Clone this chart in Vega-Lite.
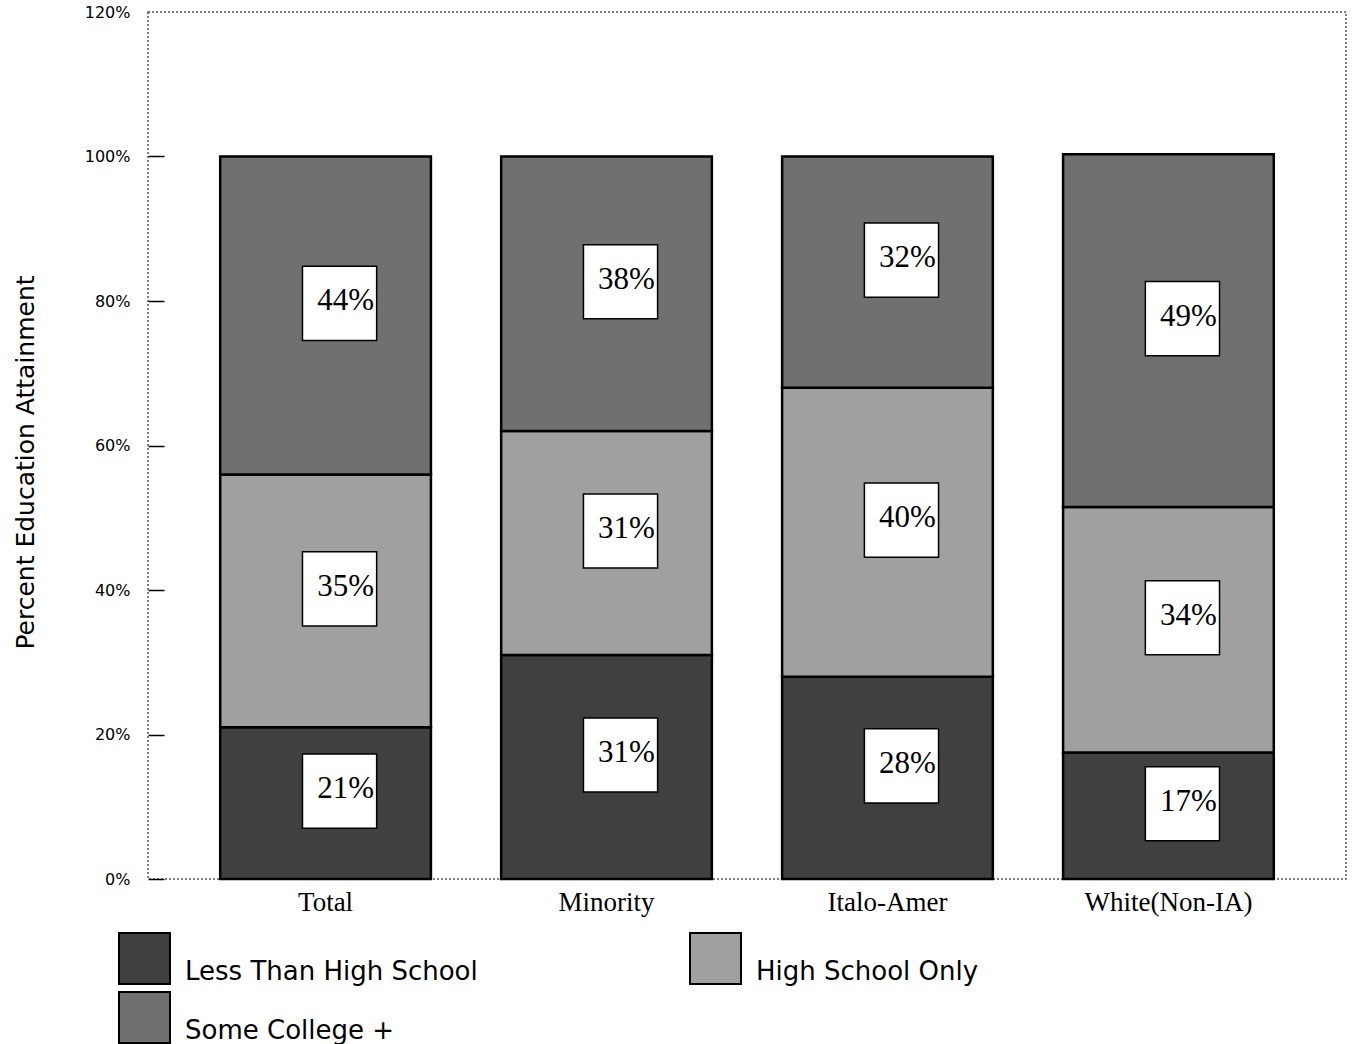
{
  "$schema": "https://vega.github.io/schema/vega-lite/v6.json",
  "autosize": {"type": "none"},
  "padding": {"left": 148, "top": 12, "right": 10, "bottom": 165},
  "width": 1198,
  "height": 867,
  "background": "white",
  "config": {
    "view": {"stroke": "#555555", "strokeDash": [2, 2], "strokeWidth": 1.5}
  },
  "data": {
    "values": [
      {"group": "Total", "level": "Less Than High School", "order": 1, "value": 21, "label": "21%"},
      {"group": "Total", "level": "High School Only", "order": 2, "value": 35, "label": "35%"},
      {"group": "Total", "level": "Some College +", "order": 3, "value": 44, "label": "44%"},
      {"group": "Minority", "level": "Less Than High School", "order": 1, "value": 31, "label": "31%"},
      {"group": "Minority", "level": "High School Only", "order": 2, "value": 31, "label": "31%"},
      {"group": "Minority", "level": "Some College +", "order": 3, "value": 38, "label": "38%"},
      {"group": "Italo-Amer", "level": "Less Than High School", "order": 1, "value": 28, "label": "28%"},
      {"group": "Italo-Amer", "level": "High School Only", "order": 2, "value": 40, "label": "40%"},
      {"group": "Italo-Amer", "level": "Some College +", "order": 3, "value": 32, "label": "32%"},
      {"group": "White(Non-IA)", "level": "Less Than High School", "order": 1, "value": 17.5, "label": "17%"},
      {"group": "White(Non-IA)", "level": "High School Only", "order": 2, "value": 34, "label": "34%"},
      {"group": "White(Non-IA)", "level": "Some College +", "order": 3, "value": 48.8, "label": "49%"}
    ]
  },
  "encoding": {
    "x": {
      "field": "group",
      "type": "nominal",
      "sort": ["Total", "Minority", "Italo-Amer", "White(Non-IA)"],
      "scale": {"paddingInner": 0.25, "paddingOuter": 0.257},
      "axis": {
        "title": null,
        "labelAngle": 0,
        "labelFont": "Liberation Serif",
        "labelFontSize": 27,
        "labelColor": "black",
        "labelPadding": 10,
        "ticks": false,
        "domain": false
      }
    }
  },
  "layer": [
    {
      "mark": {"type": "bar", "stroke": "black", "strokeWidth": 2.5, "opacity": 1},
      "encoding": {
        "y": {
          "field": "value",
          "type": "quantitative",
          "stack": "zero",
          "scale": {"domain": [0, 120], "nice": false},
          "axis": {
            "title": "Percent Education Attainment",
            "titleFont": "DejaVu Sans",
            "titleFontSize": 25,
            "titleFontWeight": "normal",
            "titleColor": "black",
            "titlePadding": 46,
            "titleY": 450,
            "values": [0, 20, 40, 60, 80, 100, 120],
            "labelExpr": "datum.value + '%'",
            "labelFont": "DejaVu Sans",
            "labelFontSize": 16,
            "labelColor": "black",
            "labelPadding": 34,
            "tickSize": -16,
            "tickColor": {"condition": {"test": "datum.value == 120", "value": "transparent"}, "value": "black"},
            "tickWidth": 1.5,
            "domain": false,
            "grid": false
          }
        },
        "fill": {
          "field": "level",
          "type": "nominal",
          "scale": {
            "domain": ["Less Than High School", "Some College +", "High School Only"],
            "range": ["#404040", "#707070", "#a0a0a0"]
          },
          "legend": {
            "title": null,
            "orient": "none",
            "legendX": -30,
            "legendY": 920,
            "columns": 2,
            "columnPadding": 208,
            "rowPadding": 0,
            "symbolType": "square",
            "symbolSize": 2600,
            "symbolStrokeColor": "black",
            "symbolStrokeWidth": 2,
            "symbolOpacity": 1,
            "labelFont": "DejaVu Sans",
            "labelFontSize": 26,
            "labelColor": "black",
            "labelOffset": 14,
            "labelBaseline": "top",
            "labelLimit": 400
          }
        },
        "order": {"field": "order", "type": "quantitative"}
      }
    },
    {
      "transform": [
        {"stack": "value", "groupby": ["group"], "sort": [{"field": "order"}], "as": ["y0", "y1"]},
        {"calculate": "(datum.y0 + datum.y1) / 2", "as": "mid"}
      ],
      "mark": {"type": "point", "shape": "square", "filled": true, "fill": "white", "stroke": "black", "strokeWidth": 1.5, "opacity": 1, "size": 5500, "xOffset": 14, "yOffset": -12},
      "encoding": {
        "y": {"field": "mid", "type": "quantitative"}
      }
    },
    {
      "transform": [
        {"stack": "value", "groupby": ["group"], "sort": [{"field": "order"}], "as": ["y0", "y1"]},
        {"calculate": "(datum.y0 + datum.y1) / 2", "as": "mid"}
      ],
      "mark": {"type": "text", "font": "Liberation Serif", "fontSize": 31, "color": "black", "xOffset": 20, "yOffset": -14, "baseline": "middle", "align": "center"},
      "encoding": {
        "y": {"field": "mid", "type": "quantitative"},
        "text": {"field": "label"}
      }
    }
  ]
}
